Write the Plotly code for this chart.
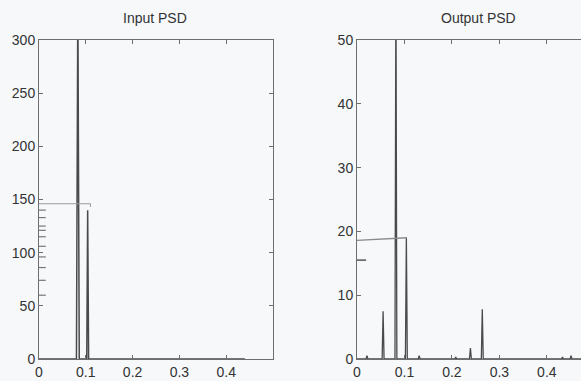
import plotly.graph_objects as go

# ---- data ----
in_freq = [0.0, 0.080, 0.083, 0.086, 0.102, 0.104, 0.106, 0.44]
in_psd = [0.0, 0.0, 340.0, 0.0, 0.0, 140.0, 0.0, 0.0]
in_level_f = [0.0, 0.110, 0.110]
in_level_v = [146.0, 146.0, 143.0]
in_marks_v = [140, 133, 125, 121, 115, 106, 96, 86, 74, 60]

out_freq = [0.0, 0.019, 0.021, 0.023, 0.053, 0.055, 0.057, 0.080, 0.082, 0.084,
            0.102, 0.104, 0.106, 0.129, 0.131, 0.133, 0.206, 0.208, 0.210,
            0.237, 0.239, 0.241, 0.262, 0.264, 0.266, 0.431, 0.433, 0.435,
            0.449, 0.451, 0.453, 0.48]
out_psd = [0.0, 0.0, 0.5, 0.0, 0.0, 7.5, 0.0, 0.0, 60.0, 0.0,
           0.0, 19.0, 0.0, 0.0, 0.5, 0.0, 0.0, 0.3, 0.0,
           0.0, 1.7, 0.0, 0.0, 7.8, 0.0, 0.0, 0.3, 0.0,
           0.0, 0.5, 0.0, 0.0]
out_level_f = [0.0, 0.105]
out_level_v = [18.6, 19.0]
out_marks_v = [15.5]

x_ticks = [0, 0.1, 0.2, 0.3, 0.4]
x_labels = ["0", "0.1", "0.2", "0.3", "0.4"]
in_yticks = [0, 50, 100, 150, 200, 250, 300]
out_yticks = [0, 10, 20, 30, 40, 50]

LINE = "#4a4a4a"
AX = "#6e6e6e"
FONT = "Liberation Sans, Arial"

fig = go.Figure()
fig.add_trace(go.Scatter(x=in_freq, y=in_psd, mode="lines",
                         line=dict(color=LINE, width=1.5), xaxis="x", yaxis="y"))
fig.add_trace(go.Scatter(x=in_level_f, y=in_level_v, mode="lines",
                         line=dict(color="#9a9a9a", width=1), xaxis="x", yaxis="y"))
fig.add_trace(go.Scatter(x=[0.004] * len(in_marks_v), y=in_marks_v, mode="markers",
                         marker=dict(symbol="line-ew", size=7, line=dict(color="#777", width=1.2)),
                         xaxis="x", yaxis="y"))

fig.add_trace(go.Scatter(x=out_freq, y=out_psd, mode="lines",
                         line=dict(color=LINE, width=1.3), xaxis="x2", yaxis="y2"))
fig.add_trace(go.Scatter(x=out_level_f, y=out_level_v, mode="lines",
                         line=dict(color="#8a8a8a", width=1.4), xaxis="x2", yaxis="y2"))
fig.add_trace(go.Scatter(x=[0.006] * len(out_marks_v), y=out_marks_v, mode="markers",
                         marker=dict(symbol="line-ew", size=9, line=dict(color="#555", width=1.5)),
                         xaxis="x2", yaxis="y2"))

common_axis = dict(showgrid=False, zeroline=False, ticks="inside", ticklen=4,
                   tickcolor=AX, linecolor=AX, linewidth=1, showline=True,
                   automargin=False,
                   tickfont=dict(family=FONT, size=14, color="#333"))

fig.update_layout(
    width=581, height=381,
    margin=dict(l=0, r=0, t=0, b=0, pad=0),
    paper_bgcolor="#f6f8fa",
    plot_bgcolor="rgba(0,0,0,0)",
    showlegend=False,
    xaxis=dict(domain=[39 / 581, 273 / 581], range=[0, 0.5], tickvals=x_ticks,
               ticktext=x_labels, mirror="ticks", anchor="y", **common_axis),
    yaxis=dict(domain=[1 - 359 / 381, 1 - 40 / 381], range=[0, 300], tickvals=in_yticks,
               mirror="ticks", anchor="x", **common_axis),
    xaxis2=dict(domain=[357 / 581, 1.0], range=[0, 0.472], tickvals=x_ticks,
                ticktext=x_labels, mirror="ticks", anchor="y2", **common_axis),
    yaxis2=dict(domain=[1 - 359 / 381, 1 - 40 / 381], range=[0, 50], tickvals=out_yticks,
                mirror=False, anchor="x2", **common_axis),
    annotations=[
        dict(text="Input PSD", x=155 / 581, y=1 - 18 / 381, xref="paper", yref="paper",
             xanchor="center", yanchor="middle", showarrow=False,
             font=dict(family=FONT, size=14, color="#333")),
        dict(text="Output PSD", x=478 / 581, y=1 - 18 / 381, xref="paper", yref="paper",
             xanchor="center", yanchor="middle", showarrow=False,
             font=dict(family=FONT, size=14, color="#333")),
    ],
)

fig.write_html("out.html", config={"displayModeBar": False},
               post_script="document.body.style.margin='0';document.body.style.overflow='hidden';")
